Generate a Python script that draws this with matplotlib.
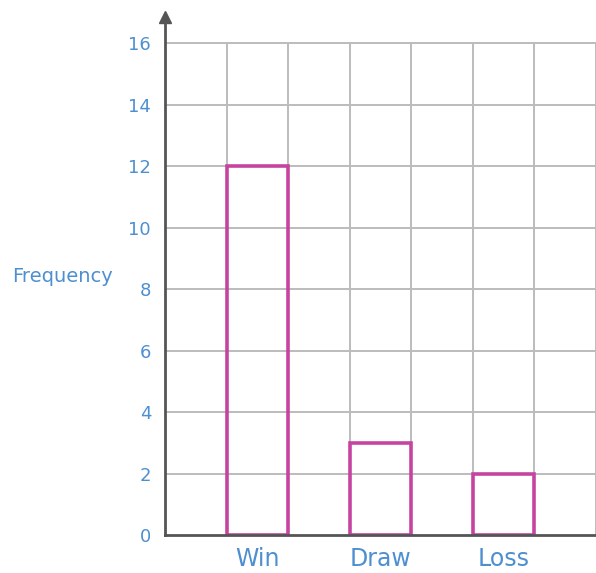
import matplotlib.pyplot as plt

results = ["Win", "Draw", "Loss"]
frequency = [12, 3, 2]
bar_pos = [1.5, 3.5, 5.5]
y_ticks = [0, 2, 4, 6, 8, 10, 12, 14, 16]

BLUE = "#4d8fd0"
PINK = "#c6449f"
GRID = "#bcbcbc"
AXIS = "#555555"

fig = plt.figure(figsize=(5.96, 5.73), dpi=100)
ax = fig.add_axes([165 / 596, 38 / 573, 431 / 596, 535 / 573])
ax.set_xlim(0, 7)
ax.set_ylim(0, 17.4)

# square grid, stopping at 16 like the squared paper
ax.hlines(y_ticks[1:], 0, 7, color=GRID, lw=1.4, zorder=0)
ax.vlines(range(1, 8), 0, 16, color=GRID, lw=1.4, zorder=0)

ax.bar(bar_pos, frequency, width=1, fill=False, edgecolor=PINK, linewidth=2.6, zorder=1)

for s in ["top", "right"]:
    ax.spines[s].set_visible(False)
for s in ["left", "bottom"]:
    ax.spines[s].set_color(AXIS)
    ax.spines[s].set_linewidth(2)
ax.spines["left"].set_bounds(0, 16.9)
ax.plot([0], [16.85], marker="^", ms=9, color=AXIS, clip_on=False, zorder=3)

ax.set_yticks(y_ticks)
ax.set_yticklabels([str(t) for t in y_ticks], color=BLUE, fontsize=13)
ax.set_xticks(bar_pos)
ax.set_xticklabels(results, color=BLUE, fontsize=17)
ax.tick_params(length=0)
ax.tick_params(axis="y", pad=10)
ax.tick_params(axis="x", pad=9)

fig.text(12 / 596, 1 - 276 / 573, "Frequency", color=BLUE, fontsize=14,
         ha="left", va="center")

fig.savefig("out.png", dpi=100)
